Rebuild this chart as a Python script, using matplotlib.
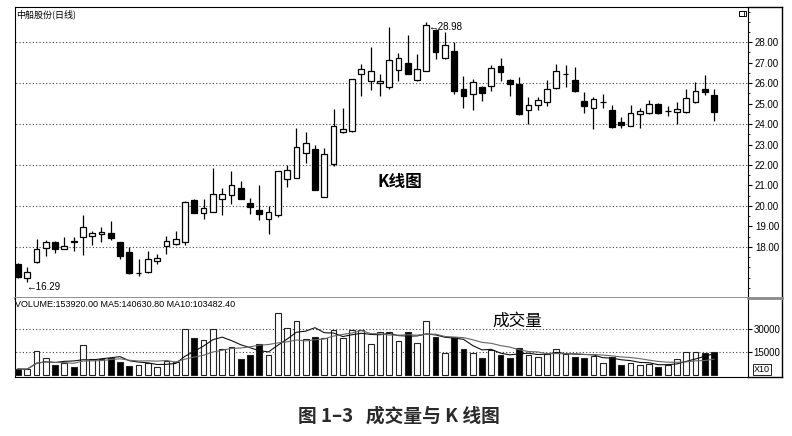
# 中船股份 日线 K线图 + 成交量
import numpy as np
import pandas as pd
import matplotlib
matplotlib.use('Agg')
import matplotlib.pyplot as plt
from matplotlib.patches import Rectangle
from matplotlib.lines import Line2D

plt.rcParams['font.family'] = ['Liberation Sans', 'Noto Sans CJK SC', 'DejaVu Sans']
CJK = ['Noto Sans CJK SC', 'DejaVu Sans']

# 日线数据 (开, 高, 低, 收)
opens = [17.15, 16.50, 17.26, 17.95, 18.23, 17.90, 18.28, 18.50, 18.52, 18.61,
         18.68, 18.26, 17.74, 16.70, 16.78, 17.31, 18.02, 18.16, 18.23, 20.29,
         19.63, 19.72, 20.32, 20.51, 20.88, 20.13, 19.80, 19.35, 19.56, 21.32,
         21.38, 22.57, 22.77, 20.45, 22.04, 23.62, 23.65, 26.47, 26.12, 26.00,
         25.83, 26.63, 27.00, 26.15, 26.60, 28.61, 27.21, 27.57, 25.71, 25.47,
         25.79, 25.87, 26.84, 26.16, 25.95, 24.70, 24.91, 25.07, 25.75, 26.45,
         26.16, 25.15, 24.78, 25.06, 24.70, 24.09, 23.91, 24.51, 24.55, 24.96,
         24.62, 24.57, 24.60, 25.10, 25.70, 25.44]
highs = [17.20, 17.02, 18.39, 18.34, 18.29, 18.47, 18.50, 19.55, 18.79, 18.98,
         19.27, 18.26, 17.97, 17.42, 17.79, 17.63, 18.52, 18.79, 20.24, 20.32,
         20.32, 21.83, 20.88, 21.69, 21.20, 20.40, 21.00, 19.99, 21.70, 22.01,
         23.83, 23.59, 22.98, 22.81, 24.75, 24.80, 26.18, 26.92, 27.77, 26.47,
         28.72, 27.45, 28.37, 27.40, 28.98, 28.66, 28.50, 28.00, 26.36, 26.20,
         25.87, 26.87, 27.24, 26.20, 26.28, 25.34, 25.31, 26.16, 26.92, 26.89,
         26.79, 25.57, 25.31, 25.47, 24.94, 24.34, 24.91, 24.80, 25.18, 25.02,
         24.86, 25.07, 25.70, 26.07, 26.39, 25.70]
lows = [16.50, 16.29, 17.20, 17.53, 17.71, 17.87, 17.79, 17.58, 18.11, 18.23,
        18.31, 17.39, 16.68, 16.57, 16.70, 17.15, 17.66, 18.11, 18.11, 19.63,
        19.35, 19.71, 19.58, 20.11, 20.32, 19.59, 19.30, 18.63, 19.48, 20.90,
        21.38, 22.12, 20.80, 20.45, 21.96, 23.57, 23.59, 25.39, 25.67, 25.39,
        25.71, 26.12, 26.44, 26.08, 26.60, 27.19, 27.16, 25.47, 24.80, 24.70,
        25.12, 25.60, 26.12, 25.39, 24.43, 23.99, 24.67, 24.86, 25.71, 25.83,
        25.55, 24.54, 23.78, 24.80, 23.83, 23.81, 23.89, 23.83, 24.51, 24.51,
        24.38, 24.02, 24.54, 25.02, 25.42, 24.15]
closes = [16.53, 16.78, 17.87, 18.23, 17.87, 18.06, 18.26, 18.95, 18.68, 18.71,
          18.43, 17.55, 16.74, 16.72, 17.42, 17.45, 18.29, 18.37, 20.19, 19.64,
          19.90, 20.59, 20.59, 21.04, 20.35, 19.95, 19.59, 19.72, 21.70, 21.77,
          22.90, 23.09, 20.80, 22.54, 23.89, 23.78, 26.18, 26.71, 26.60, 26.12,
          27.13, 27.24, 26.47, 26.71, 28.82, 27.53, 27.86, 25.60, 25.39, 26.04,
          25.54, 26.76, 26.52, 25.95, 24.47, 24.91, 25.18, 25.70, 26.57, 26.47,
          25.60, 24.88, 25.21, 25.07, 23.86, 23.93, 24.54, 24.63, 24.96, 24.55,
          24.64, 24.76, 25.26, 25.63, 25.58, 24.59]
# 成交量 (单位 x10)
volumes = [4130, 3900, 15650, 11500, 6700, 7800, 5200, 19600, 10650, 10650,
           11100, 8900, 6100, 6500, 8000, 5650, 9600, 8900, 30000, 24100,
           23000, 30000, 17400, 18700, 10650, 13300, 20200, 13500, 40400, 30650,
           35650, 23700, 24800, 24100, 29600, 24100, 29600, 29600, 20400, 28500,
           28500, 22400, 28000, 20900, 35200, 25200, 14800, 25200, 17000, 14800,
           11100, 16500, 13000, 11300, 18000, 13300, 12200, 13900, 17400, 13900,
           11700, 11100, 12600, 8300, 12200, 6500, 8300, 6700, 7400, 5650,
           6700, 10650, 15000, 15200, 14350, 15392]

price_ticks = list(range(18, 29))
price_grid = [18, 20, 22, 24, 26, 28]
vol_ticks = [15000, 30000]
vol_title = 'VOLUME:153920.00 MA5:140630.80 MA10:103482.40'

df = pd.DataFrame({'Open': opens, 'High': highs, 'Low': lows,
                   'Close': closes, 'Volume': volumes})
df['MA5'] = df['Volume'].rolling(5, min_periods=1).mean()
df['MA10'] = df['Volume'].rolling(10, min_periods=1).mean()
x = np.arange(len(df))
up = df['Close'] >= df['Open']
fill = np.where(up, 'white', 'black')

W, H = 792, 436
fig = plt.figure(figsize=(W / 100, H / 100), dpi=100)
ax = fig.add_axes([15 / W, 1 - 298 / H, (748 - 15) / W, (298 - 7) / H])
axv = fig.add_axes([15 / W, 1 - 377 / H, (748 - 15) / W, (377 - 298) / H])

# K线
ax.vlines(x, df['Low'], df['High'], color='black', lw=0.9, zorder=2)
body_lo = np.minimum(df['Open'], df['Close'])
body_h = (df['Close'] - df['Open']).abs()
ax.bar(x, body_h, bottom=body_lo, width=0.62, color=fill,
       edgecolor='black', lw=0.9, zorder=3)
ax.hlines(price_grid, -1, len(df) + 5, colors='#444', linestyles=(0, (1, 2)), lw=0.8, zorder=1)
ax.set_xlim(-0.32, 78.66)
ax.set_ylim(15.67, 29.72)
ax.set_xticks([])
ax.yaxis.tick_right()
ax.set_yticks(price_ticks)
ax.set_yticklabels([f'{v:.2f}' for v in price_ticks])
ax.set_yticks(np.arange(15.5, 29.6, 0.5), minor=True)
ax.tick_params(axis='y', which='major', length=3, pad=2, labelsize=7, width=0.8)
ax.tick_params(axis='y', which='minor', length=1.5, width=0.6)
ax.spines['bottom'].set_color('#888')
ax.spines['bottom'].set_linewidth(2)

i_lo = int(np.argmin(df['Low']))
i_hi = int(np.argmax(df['High']))
ax.annotate(f'←{df["Low"][i_lo]:.2f}', xy=(i_lo, df['Low'][i_lo]), xytext=(-1, -4),
            textcoords='offset points', ha='left', va='center', fontsize=7, zorder=6)
ax.annotate(f'←{df["High"][i_hi]:.2f}', xy=(i_hi, df['High'][i_hi]), xytext=(1.5, -3.5),
            textcoords='offset points', ha='left', va='center', fontsize=7, zorder=6)
ax.text(400 / W, 1 - 182 / H, 'K线图', transform=fig.transFigure, ha='center', va='center',
        fontsize=12, fontweight='bold', family=CJK)

# 成交量
axv.bar(x, df['Volume'], width=0.62, color=fill, edgecolor='#222', lw=0.8, zorder=3)
axv.plot(x, df['MA5'], color='#111', lw=0.8, zorder=4)
axv.plot(x, df['MA10'], color='#666', lw=0.8, zorder=4)
axv.hlines(vol_ticks, -1, len(df) + 5, colors='#444', linestyles=(0, (1, 2)), lw=0.8, zorder=1)
axv.set_xlim(-0.32, 78.66)
axv.set_ylim(-1100, 50400)
axv.set_xticks([])
axv.yaxis.tick_right()
axv.set_yticks(vol_ticks)
axv.set_yticklabels([str(v) for v in vol_ticks])
axv.tick_params(axis='y', length=3, pad=1, labelsize=7, width=0.8)
axv.spines['top'].set_visible(False)
axv.text(0, 0.97, vol_title, transform=axv.transAxes, ha='left', va='top', fontsize=6.5)
axv.text(1.008, 0.1, 'X10', transform=axv.transAxes, ha='left', va='center', fontsize=6.5,
         bbox=dict(boxstyle='square,pad=0.1', fc='white', ec='black', lw=0.6))
fig.text(517 / W, 1 - 321 / H, '成交量', ha='center', va='center', fontsize=12, family=CJK)

# 外框
for (x0, y0, x1, y1, c, w) in [(748, 7, 782, 7, 'black', 1), (782, 7, 782, 377, 'black', 1),
                               (748, 377, 782, 377, 'black', 1), (748, 298, 782, 298, '#888', 2)]:
    fig.add_artist(Line2D([x0 / W, x1 / W], [1 - y0 / H, 1 - y1 / H], color=c, lw=w))
fig.add_artist(Rectangle((739 / W, 1 - 16 / H), 7 / W, 5 / H, fill=False, lw=0.7, ec='black'))
fig.add_artist(Line2D([743.5 / W, 743.5 / W], [1 - 16 / H, 1 - 11 / H], color='black', lw=0.6))

fig.text(16 / W, 1 - 14 / H, '中船股份(日线)', ha='left', va='center', fontsize=6.5, family=CJK)
fig.text(399 / W, 1 - 416 / H, '图 1–3   成交量与 K 线图', ha='center', va='center',
         fontsize=13.5, fontweight='bold', color='#2a2a2a', family=CJK)

fig.savefig('out.png', dpi=100)
